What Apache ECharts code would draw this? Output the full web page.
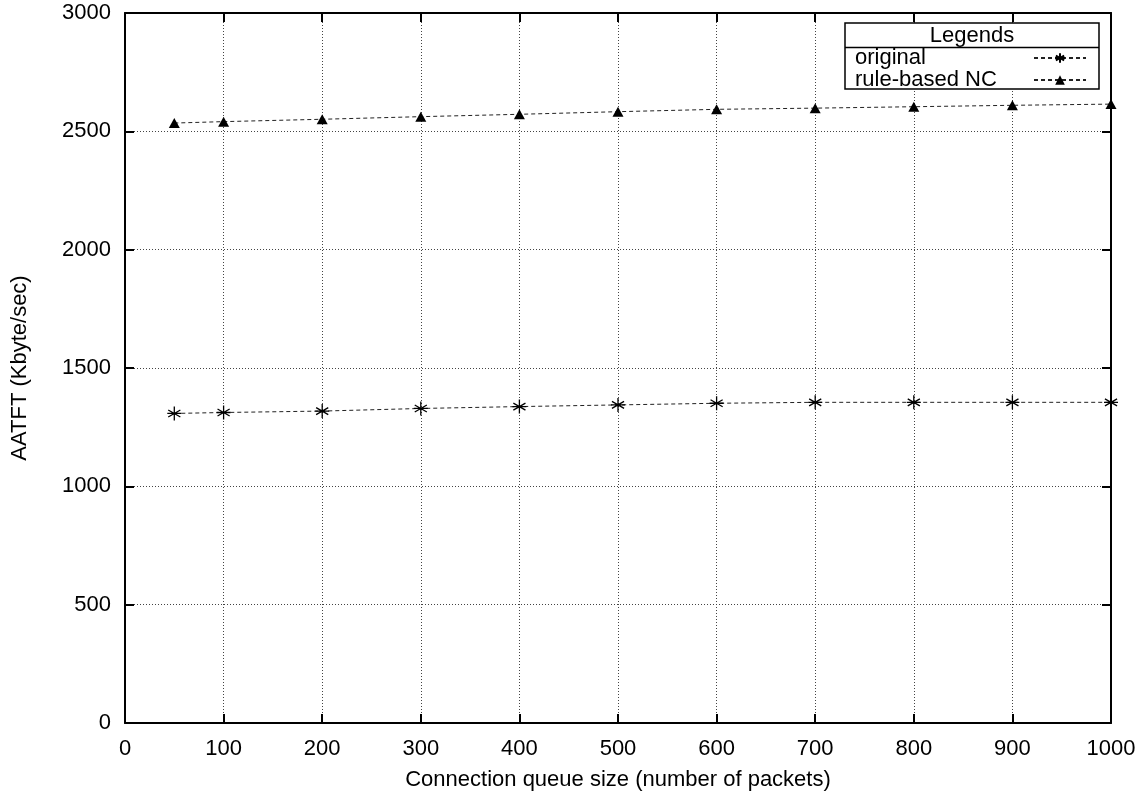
<!DOCTYPE html>
<html>
<head>
<meta charset="utf-8">
<script src="https://cdn.jsdelivr.net/npm/echarts@6/dist/echarts.min.js"></script>
<style>html,body{margin:0;padding:0;background:#fff}#c{width:1146px;height:797px}</style>
</head>
<body>
<div id="c"></div>
<script>
const queueSizes = [50, 100, 200, 300, 400, 500, 600, 700, 800, 900, 1000];
const originalValues = [1308, 1312, 1318, 1329, 1337, 1344, 1351, 1355, 1355, 1355, 1355];
const ruleBasedValues = [2535, 2541, 2551, 2562, 2572, 2583, 2593, 2598, 2604, 2610, 2615];
const seriesNames = ['original', 'rule-based NC'];
const xAxisName = 'Connection queue size (number of packets)';
const yAxisName = 'AATFT (Kbyte/sec)';
const legendTitle = 'Legends';

const FONT = 'Liberation Sans, Arial, sans-serif';
const asterisk = 'path://M0,-1L0,1M-0.866,-0.5L0.866,0.5M-0.866,0.5L0.866,-0.5M-1,0L1,0';

const chart = echarts.init(document.getElementById('c'));
const axisLine = { show: true, onZero: false, lineStyle: { color: '#000', width: 2 } };
const tick = { show: true, inside: true, length: 9, lineStyle: { color: '#000', width: 2 } };
const split = { show: true, lineStyle: { color: '#444', width: 1, type: [1, 2] } };
const plain = v => String(v);

chart.setOption({
  animation: false,
  backgroundColor: '#fff',
  grid: { left: 125, right: 35, top: 13, bottom: 74, containLabel: false },
  xAxis: [
    {
      type: 'value', min: 0, max: 1000, interval: 100,
      name: xAxisName, nameLocation: 'middle', nameGap: 46,
      nameTextStyle: { fontFamily: FONT, fontSize: 22, color: '#000' },
      axisLine: axisLine, axisTick: tick, splitLine: split,
      axisLabel: { fontFamily: FONT, fontSize: 22, color: '#000', margin: 15, formatter: plain }
    },
    {
      type: 'value', min: 0, max: 1000, interval: 100, position: 'top',
      axisLine: axisLine, axisTick: tick, splitLine: { show: false },
      axisLabel: { show: false }
    }
  ],
  yAxis: [
    {
      type: 'value', min: 0, max: 3000, interval: 500,
      name: yAxisName, nameLocation: 'middle', nameGap: 94, nameRotate: 90,
      nameTextStyle: { fontFamily: FONT, fontSize: 22, color: '#000' },
      axisLine: axisLine, axisTick: tick, splitLine: split,
      axisLabel: { fontFamily: FONT, fontSize: 22, color: '#000', margin: 14, formatter: plain }
    },
    {
      type: 'value', min: 0, max: 3000, interval: 500, position: 'right',
      axisLine: axisLine, axisTick: tick, splitLine: { show: false },
      axisLabel: { show: false }
    }
  ],
  graphic: [
    {
      type: 'rect', z: 5,
      shape: { x: 845, y: 23, width: 254, height: 66 },
      style: { fill: '#fff', stroke: '#000', lineWidth: 1.5 }
    },
    {
      type: 'line', z: 6,
      shape: { x1: 845, y1: 47.5, x2: 1099, y2: 47.5 },
      style: { stroke: '#000', lineWidth: 1.5 }
    },
    {
      type: 'text', z: 6, x: 972, y: 35.5,
      style: { text: legendTitle, font: '22px ' + FONT, fill: '#000', align: 'center', verticalAlign: 'middle' }
    }
  ],
  legend: {
    z: 10,
    orient: 'vertical', left: 850, top: 42, align: 'right',
    itemGap: 0, itemWidth: 52, itemHeight: 12,
    formatter: '{a|{name}}',
    textStyle: {
      fontFamily: FONT, fontSize: 22, color: '#000',
      rich: { a: { fontFamily: FONT, fontSize: 22, color: '#000', width: 174, align: 'left', lineHeight: 21.5 } }
    },
    data: seriesNames
  },
  series: [
    {
      name: seriesNames[0], type: 'line',
      data: queueSizes.map((x, i) => [x, originalValues[i]]),
      symbol: asterisk, symbolSize: 14,
      lineStyle: { color: '#222', width: 1, type: [4, 3] },
      itemStyle: { color: '#000', borderColor: '#000', borderWidth: 1.3 },
      z: 3
    },
    {
      name: seriesNames[1], type: 'line',
      data: queueSizes.map((x, i) => [x, ruleBasedValues[i]]),
      symbol: 'triangle', symbolSize: [11, 10],
      lineStyle: { color: '#222', width: 1, type: [4, 3] },
      itemStyle: { color: '#000' },
      z: 3
    }
  ]
});
</script>
</body>
</html>
